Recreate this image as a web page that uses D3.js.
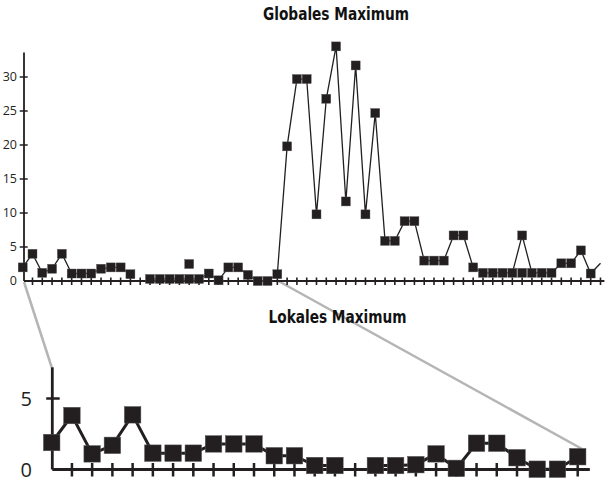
<!DOCTYPE html>
<html lang="de">
<head>
<meta charset="utf-8">
<title>Globales und lokales Maximum</title>
<script src="https://cdnjs.cloudflare.com/ajax/libs/d3/7.8.5/d3.min.js"></script>
<style>
body { margin: 0; background: #fff; }
.title {
   font-family: "Liberation Sans Narrow", "DejaVu Sans Condensed", sans-serif;
   font-weight: bold;
   fill: #111;
}
.ticklabel {
   font-family: "Open Sans", sans-serif;
   fill: #231f20;
}
.connector {
   stroke: #b5b5b5;
   stroke-width: 2.5;
   fill: none;
}
</style>
</head>
<body>
<div id="chart"></div>
<script>

const w = 610;
const h = 482;
const ink = "#231f20";

// Globales Maximum: one value per step, null = no point
const topValues = [
   2, 4, 1.2, 1.8, 4, 1.1, 1.1, 1.1, 1.8, 2, 2, 1, null,
   0.3, 0.3, 0.3, 0.3, 0.3, 0.3, 1.1, 0.1, 2, 2, 0.9, 0, 0, 1,
   19.8, 29.7, 29.7, 9.8, 26.8, 34.5, 11.7, 31.7, 9.8, 24.7,
   5.9, 5.9, 8.8, 8.8, 3, 3, 3, 6.7, 6.7, 2,
   1.2, 1.2, 1.2, 1.2, 6.7, 1.2, 1.2, 1.2, 2.6, 2.6, 4.5, 1.1
];
// line runs on one step past the last marker
const topTail = 2.6;
// stray markers not on the line: [step, value]
const topExtra = [[17, 2.5], [51, 1.2]];
const topTicks = [0, 5, 10, 15, 20, 25, 30];

// Lokales Maximum: close-up of the first steps
const bottomValues = [
   1.9, 3.8, 1.1, 1.7, 3.85, 1.15, 1.15, 1.15, 1.8, 1.8, 1.8, 0.97, 0.97,
   0.28, 0.28, null, 0.28, 0.28, 0.34, 1.1, 0.08, 1.85, 1.85, 0.83, 0.02, 0.02, 0.9
];
const bottomTicks = [0, 5];

const svg = d3.select("#chart")
   .append("svg")
   .attr("width", w)
   .attr("height", h);

// ---------- scales ----------
const xTop = d3.scaleLinear().domain([0, topValues.length - 1]).range([22.7, 590.7]);
const yTop = d3.scaleLinear().domain([0, 30]).range([281, 77]);

const xBot = d3.scaleLinear().domain([0, bottomValues.length - 1]).range([51.7, 577.7]);
const yBot = d3.scaleLinear().domain([0, 5]).range([469.5, 398.5]);

// ---------- grey zoom connectors (drawn first, behind) ----------
svg.append("line")
   .attr("class", "connector")
   .attr("x1", xTop(0) + 1.3).attr("y1", yTop(0) + 1)
   .attr("x2", xBot(0)).attr("y2", yBot(7.2));
svg.append("line")
   .attr("class", "connector")
   .attr("x1", xTop(26) + 1).attr("y1", yTop(0))
   .attr("x2", xBot(26) + 4).attr("y2", yBot(bottomValues[26]) - 8);

// ---------- top chart ----------
svg.append("text")
   .attr("class", "title")
   .attr("x", 263).attr("y", 19.5)
   .attr("textLength", 146)
   .attr("lengthAdjust", "spacingAndGlyphs")
   .style("font-size", "18px")
   .text("Globales Maximum");

const topAxis = svg.append("g");
topAxis.append("line")
   .attr("x1", xTop(0) + 1.3).attr("x2", xTop(0) + 1.3)
   .attr("y1", yTop(33.6)).attr("y2", yTop(0))
   .attr("stroke", ink).attr("stroke-width", 1.8);
topAxis.append("line")
   .attr("x1", xTop(0) + 1.3).attr("x2", xTop(59.4))
   .attr("y1", yTop(0)).attr("y2", yTop(0))
   .attr("stroke", ink).attr("stroke-width", 1.8);

topAxis.selectAll(".ytick")
   .data(topTicks.filter(d => d > 0))
   .enter()
   .append("line")
   .attr("x1", xTop(0) - 3).attr("x2", xTop(0) + 5)
   .attr("y1", d => yTop(d)).attr("y2", d => yTop(d))
   .attr("stroke", ink).attr("stroke-width", 1.5);

topAxis.selectAll(".ylabel")
   .data(topTicks)
   .enter()
   .append("text")
   .attr("class", "ticklabel")
   .attr("x", 17)
   .attr("y", d => yTop(d))
   .attr("dy", "0.35em")
   .attr("text-anchor", "end")
   .style("font-size", "12.5px")
   .text(d => d);

topAxis.selectAll(".xtick")
   .data(d3.range(1, topValues.length + 1))
   .enter()
   .append("line")
   .attr("x1", d => xTop(d)).attr("x2", d => xTop(d))
   .attr("y1", yTop(0) - 3.5).attr("y2", yTop(0) + 4)
   .attr("stroke", ink).attr("stroke-width", 1.6);

const topLine = d3.line()
   .defined(d => d != null)
   .x((d, i) => xTop(i))
   .y(d => yTop(d));

svg.append("path")
   .datum(topValues.concat([topTail]))
   .attr("d", topLine)
   .attr("fill", "none")
   .attr("stroke", ink)
   .attr("stroke-width", 1.3);

const topPoints = topValues.map((v, i) => [i, v]).filter(d => d[1] != null).concat(topExtra);
const ts = 9;
svg.selectAll(".topmark")
   .data(topPoints)
   .enter()
   .append("rect")
   .attr("x", d => xTop(d[0]) - ts / 2)
   .attr("y", d => yTop(d[1]) - ts / 2)
   .attr("width", ts).attr("height", ts)
   .attr("fill", ink)
   .attr("stroke", "#555").attr("stroke-width", 0.4);

// ---------- bottom chart ----------
svg.append("text")
   .attr("class", "title")
   .attr("x", 268.5).attr("y", 323)
   .attr("textLength", 138)
   .attr("lengthAdjust", "spacingAndGlyphs")
   .style("font-size", "17.5px")
   .text("Lokales Maximum");

const botAxis = svg.append("g");
botAxis.append("line")
   .attr("x1", xBot(0) + 0.6).attr("x2", xBot(0) + 0.6)
   .attr("y1", yBot(7.2)).attr("y2", yBot(0))
   .attr("stroke", ink).attr("stroke-width", 2.8);
botAxis.append("line")
   .attr("x1", xBot(0) + 0.6).attr("x2", xBot(26.6))
   .attr("y1", yBot(0)).attr("y2", yBot(0))
   .attr("stroke", ink).attr("stroke-width", 2.8);

botAxis.selectAll(".ytick")
   .data(bottomTicks.filter(d => d > 0))
   .enter()
   .append("line")
   .attr("x1", xBot(0) - 5.5).attr("x2", xBot(0) + 8)
   .attr("y1", d => yBot(d)).attr("y2", d => yBot(d))
   .attr("stroke", ink).attr("stroke-width", 2.5);

botAxis.selectAll(".ylabel")
   .data(bottomTicks)
   .enter()
   .append("text")
   .attr("class", "ticklabel")
   .attr("x", 32)
   .attr("y", d => yBot(d))
   .attr("dy", "0.36em")
   .attr("text-anchor", "end")
   .style("font-size", "20px")
   .text(d => d);

botAxis.selectAll(".xtick")
   .data(d3.range(1, bottomValues.length))
   .enter()
   .append("line")
   .attr("x1", d => xBot(d)).attr("x2", d => xBot(d))
   .attr("y1", yBot(0) - 6.5).attr("y2", yBot(0) + 7)
   .attr("stroke", ink).attr("stroke-width", 2.5);

const botLine = d3.line()
   .defined(d => d != null)
   .x((d, i) => xBot(i))
   .y(d => yBot(d));

svg.append("path")
   .datum(bottomValues)
   .attr("d", botLine)
   .attr("fill", "none")
   .attr("stroke", ink)
   .attr("stroke-width", 3);

const bs = 16.5;
svg.selectAll(".botmark")
   .data(bottomValues.map((v, i) => [i, v]).filter(d => d[1] != null))
   .enter()
   .append("rect")
   .attr("x", d => xBot(d[0]) - bs / 2)
   .attr("y", d => yBot(d[1]) - bs / 2)
   .attr("width", bs).attr("height", bs)
   .attr("fill", ink)
   .attr("stroke", "#555").attr("stroke-width", 0.5);

</script>
</body>
</html>
